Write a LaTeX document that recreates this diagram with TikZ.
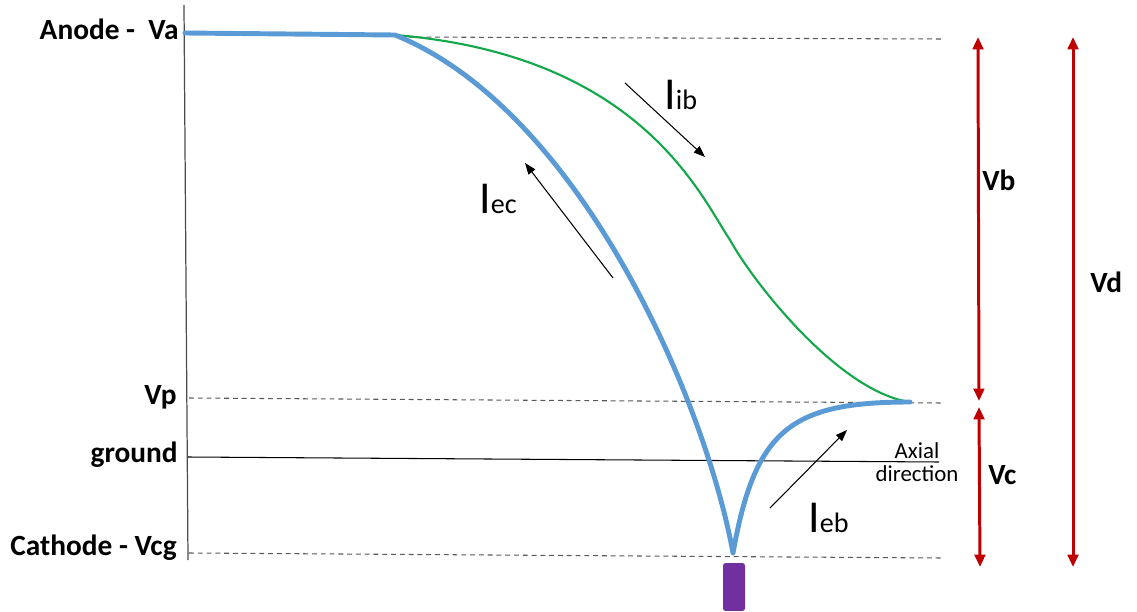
\documentclass[tikz,border=0pt]{standalone}
\usepackage{fontspec}
\setmainfont{Carlito}
\usetikzlibrary{arrows.meta}
\definecolor{beamblue}{HTML}{5B9BD5}
\definecolor{ionsgreen}{HTML}{12A84A}
\definecolor{voltred}{HTML}{C00000}
\definecolor{cathviolet}{HTML}{7030A0}
\newcommand{\curlabel}[1]{{\fontsize{26}{28}\selectfont I}{\fontsize{16}{18}\selectfont #1}}

\begin{document}
\begin{tikzpicture}[x=0.02cm,y=-0.02cm,
  lvl/.style={font=\fontsize{16.7}{19}\selectfont\bfseries,inner sep=0pt},
  curr/.style={inner sep=0pt},
  flow/.style={black,line width=0.6pt,-{Triangle[length=6.5pt,width=4.8pt]}},
  vspan/.style={voltred,line width=1.7pt,{Triangle[length=7pt,width=6pt]}-{Triangle[length=7pt,width=6pt]}},
  guide/.style={black!65,line width=0.6pt,dash pattern=on 2.8pt off 2.2pt}]
  \useasboundingbox (0,0) rectangle (1137,612);

  % axis and potential levels
  \coordinate (axtop) at (184,5);
  \coordinate (axbot) at (188,560);
  \draw[black!70,line width=0.7pt] (axtop) -- (axbot);
  \node[lvl,anchor=base east] (anode) at (179,39) {Anode -\ \ Va};
  \node[lvl,anchor=base east] (vp) at (177,404) {Vp};
  \node[lvl,anchor=base east] (gnd) at (178,462) {ground};
  \node[lvl,anchor=base east] (cathode) at (177,555) {Cathode - Vcg};

  \coordinate (vaL) at (400,37);  \coordinate (vaR) at (942,39);
  \coordinate (vpL) at (189,398); \coordinate (vpR) at (942,403);
  \coordinate (gndL) at (188,457); \coordinate (gndR) at (939,462);
  \coordinate (vcgL) at (189,553); \coordinate (vcgR) at (942,558);
  \draw[guide] (vaL) -- (vaR);
  \draw[guide] (vpL) -- (vpR);
  \draw[black,line width=0.6pt] (gndL) -- (gndR);
  \draw[guide] (vcgL) -- (vcgR);

  % potential curves
  \coordinate (vastart) at (185,33);
  \coordinate (knee) at (395,35);
  \coordinate (dip) at (733,553);
  \coordinate (tip) at (910,402);
  \coordinate (bend) at (730,240);
  \draw[ionsgreen,line width=1.2pt] (knee) .. controls (640,55) and (700,195) .. (bend)
    .. controls (755,285) and (840,392) .. (tip);
  \draw[beamblue,line width=2.8pt,line join=round,line cap=round] (vastart) -- (knee)
    .. controls (580,110) and (705,400) .. (dip)
    .. controls (755,430) and (790,402) .. (tip);

  % currents
  \coordinate (ibS) at (625,83);  \coordinate (ibE) at (705,157);
  \coordinate (ecS) at (613,278); \coordinate (ecE) at (525,163);
  \coordinate (ebS) at (770,508); \coordinate (ebE) at (847,430);
  \draw[flow] (ibS) -- (ibE);
  \draw[flow] (ecS) -- (ecE);
  \draw[flow] (ebS) -- (ebE);
  \node[curr,anchor=base west] (iib) at (664,109) {\curlabel{ib}};
  \node[curr,anchor=base west] (iec) at (479,213) {\curlabel{ec}};
  \node[curr,anchor=base west] (ieb) at (808,532) {\curlabel{eb}};

  \node[anchor=base,inner sep=0pt,font=\fontsize{13}{15}\selectfont] (axial) at (917,458) {Axial};
  \node[anchor=base,inner sep=0pt,font=\fontsize{13}{15}\selectfont] (axdir) at (917,481) {direction};

  % voltage spans
  \coordinate (vbT) at (978,37);   \coordinate (vbB) at (979,401);
  \coordinate (vcT) at (979,407);  \coordinate (vcB) at (980,567);
  \coordinate (vdT) at (1073,37);  \coordinate (vdB) at (1073,567);
  \draw[vspan] (vbT) -- (vbB);
  \draw[vspan] (vcT) -- (vcB);
  \draw[vspan] (vdT) -- (vdB);
  \node[lvl,anchor=base west] (vb) at (982,190) {Vb};
  \node[lvl,anchor=base west] (vc) at (988,484) {Vc};
  \node[lvl,anchor=base west] (vd) at (1090,292) {Vd};

  \node[fill=cathviolet,rounded corners=1.5pt,inner sep=0pt,minimum width=0.44cm,minimum height=0.96cm] (plate) at (734,587) {};
\end{tikzpicture}
\end{document}
